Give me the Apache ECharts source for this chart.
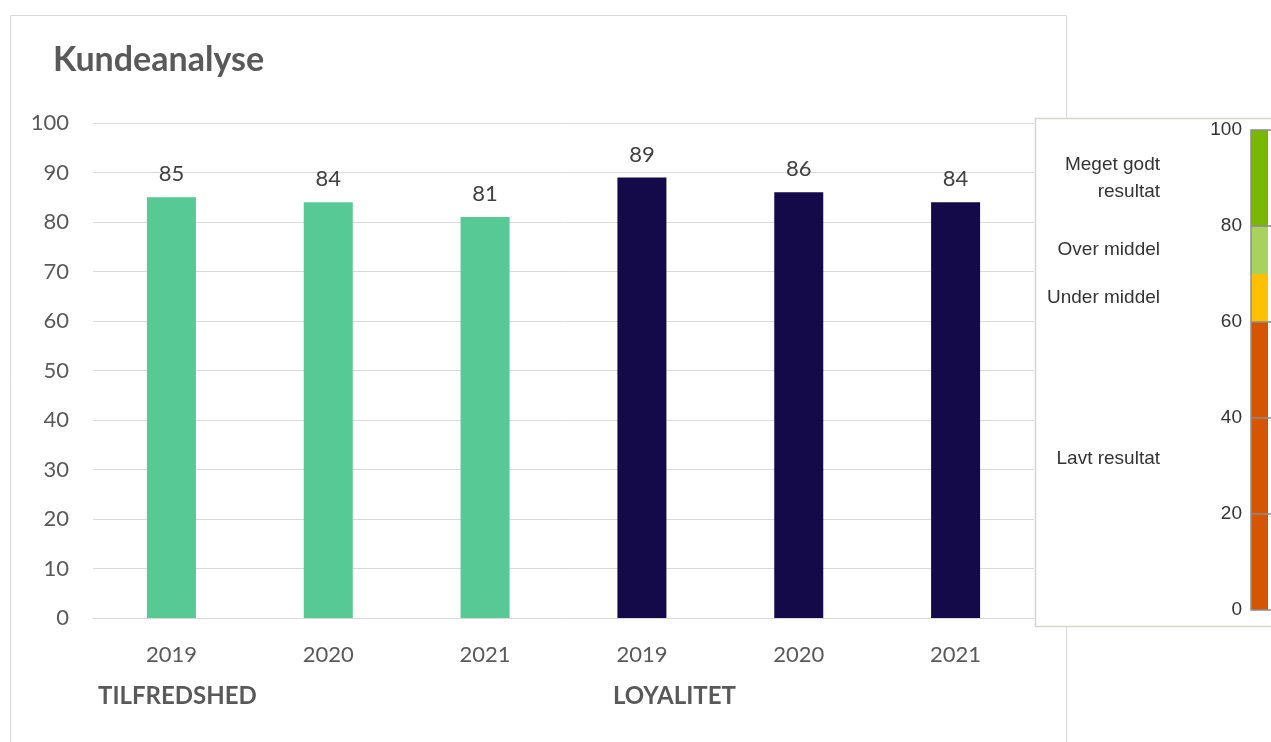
<!DOCTYPE html>
<html>
<head>
<meta charset="utf-8">
<script src="https://cdn.jsdelivr.net/npm/echarts@6/dist/echarts.min.js"></script>
<style>
  html, body { margin: 0; padding: 0; background: #ffffff; }
  #chart { width: 1271px; height: 742px; }
</style>
</head>
<body>
<div id="chart"></div>
<script>
const titleText = 'Kundeanalyse';
const categories = ['2019', '2020', '2021', '2019', '2020', '2021'];
const groupNames = ['TILFREDSHED', 'LOYALITET'];
const tilfredshed = [85, 84, 81];
const loyalitet = [89, 86, 84];
const yTicks = [0, 10, 20, 30, 40, 50, 60, 70, 80, 90, 100];

const bandEdges = [0, 60, 70, 80, 100];
const bandNames = ['Lavt resultat', 'Under middel', 'Over middel', 'Meget godt\nresultat'];
const bandColors = ['#D55500', '#FFC000', '#A9D15E', '#7AB800'];
const scaleTicks = [0, 20, 40, 60, 80, 100];

const chart = echarts.init(document.getElementById('chart'));

const mainFont = 'Lato, "Open Sans", sans-serif';
const panelFont = '"Liberation Sans", Arial, sans-serif';

const seriesA = categories.map((c, i) => i < tilfredshed.length ? tilfredshed[i] : '-');
const seriesB = categories.map((c, i) => i >= tilfredshed.length ? loyalitet[i - tilfredshed.length] : '-');

const bandSeries = bandNames.map((name, i) => ({
  type: 'bar',
  name: name,
  xAxisIndex: 1,
  yAxisIndex: 1,
  stack: 'scale',
  barWidth: '100%',
  data: [bandEdges[i + 1] - bandEdges[i]],
  itemStyle: { color: bandColors[i] },
  label: {
    show: true,
    position: 'left',
    distance: 91,
    formatter: name,
    fontFamily: panelFont,
    fontSize: 19,
    lineHeight: 27,
    color: '#333333',
    align: 'right',
    offset: i === 0 ? [0, -7] : [0, 0]
  },
  silent: true
}));

const option = {
  animation: false,
  backgroundColor: '#ffffff',
  title: {
    text: titleText,
    left: 48,
    top: 38,
    textStyle: { fontFamily: mainFont, fontSize: 34, fontWeight: 'bold', color: '#595959' }
  },
  graphic: [
    {
      type: 'rect', z: -10,
      shape: { x: 10.5, y: 15.5, width: 1056, height: 740 },
      style: { fill: '#ffffff', stroke: '#d9d9d9', lineWidth: 1 }
    },
    {
      type: 'rect', z: 0,
      shape: { x: 1035.5, y: 118.5, width: 260, height: 508 },
      style: { fill: '#ffffff', stroke: '#d4d8cb', lineWidth: 1.5 }
    },
    {
      type: 'text', left: 98, top: 684, z: 5,
      style: { text: groupNames[0], fontFamily: mainFont, fontSize: 24, fontWeight: 'bold', fill: '#595959' }
    },
    {
      type: 'text', left: 613, top: 684, z: 5,
      style: { text: groupNames[1], fontFamily: mainFont, fontSize: 24, fontWeight: 'bold', fill: '#595959' }
    }
  ],
  grid: [
    { left: 93, top: 123, width: 941, height: 495, containLabel: false },
    { left: 1251, top: 130, width: 17, height: 480, containLabel: false, z: 5 }
  ],
  xAxis: [
    {
      type: 'category',
      gridIndex: 0,
      data: categories,
      axisLine: { show: true, lineStyle: { color: '#d9d9d9', width: 1 } },
      axisTick: { show: false },
      axisLabel: { fontFamily: mainFont, fontSize: 22, color: '#595959', margin: 26 }
    },
    {
      type: 'category',
      gridIndex: 1,
      data: [''],
      show: false
    }
  ],
  yAxis: [
    {
      type: 'value',
      gridIndex: 0,
      min: yTicks[0],
      max: yTicks[yTicks.length - 1],
      interval: 10,
      axisLine: { show: false },
      axisTick: { show: false },
      splitLine: { show: true, lineStyle: { color: '#d9d9d9', width: 1 } },
      axisLabel: { fontFamily: mainFont, fontSize: 22, color: '#595959', margin: 24 }
    },
    {
      type: 'value',
      gridIndex: 1,
      min: scaleTicks[0],
      max: scaleTicks[scaleTicks.length - 1],
      interval: 20,
      z: 20,
      axisLine: { show: true, lineStyle: { color: '#8c8c8c', width: 1.5 } },
      axisTick: { show: true, inside: true, length: 20, lineStyle: { color: '#8c8c8c', width: 1.5 } },
      splitLine: { show: false },
      axisLabel: { fontFamily: panelFont, fontSize: 19, color: '#333333', margin: 9 }
    }
  ],
  series: [
    {
      type: 'bar',
      name: groupNames[0],
      xAxisIndex: 0,
      yAxisIndex: 0,
      data: seriesA,
      barWidth: 49,
      barGap: '-100%',
      itemStyle: { color: '#57C995' },
      label: { show: true, position: 'top', distance: 12, fontFamily: mainFont, fontSize: 22, color: '#404040' }
    },
    {
      type: 'bar',
      name: groupNames[1],
      xAxisIndex: 0,
      yAxisIndex: 0,
      data: seriesB,
      barWidth: 49,
      barGap: '-100%',
      itemStyle: { color: '#140A4A' },
      label: { show: true, position: 'top', distance: 12, fontFamily: mainFont, fontSize: 22, color: '#404040' }
    }
  ].concat(bandSeries)
};

chart.setOption(option);
</script>
</body>
</html>
